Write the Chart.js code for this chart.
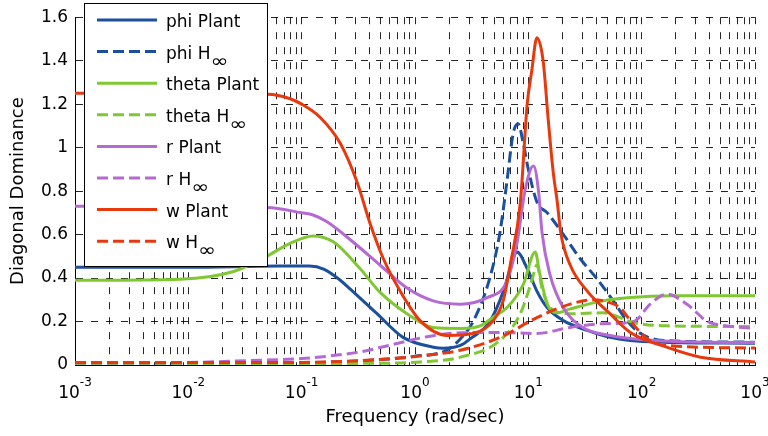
<!DOCTYPE html>
<html>
<head>
<meta charset="utf-8">
<script src="https://cdn.jsdelivr.net/npm/chart.js@4.4.0/dist/chart.umd.min.js"></script>
<style>
    html, body { margin: 0; padding: 0; background: #fff; }
</style>
</head>
<body>
<canvas id="myChart" width="768" height="436"></canvas>
<script>
// axis ticks
const yTickLabels = ['0', '0.2', '0.4', '0.6', '0.8', '1', '1.2', '1.4', '1.6'];
const xTickVals = [0.001, 0.01, 0.1, 1, 10, 100, 1000];
const xTickExp = ['-3', '-2', '-1', '0', '1', '2', '3'];

// series (freq in rad/sec)
const phiPlantFreq = [0.001, 0.01, 0.063, 0.117, 0.158, 0.219, 0.267, 0.462, 0.785, 1.45, 1.78, 2.51, 3.06, 4.57, 6.03, 7.35, 7.94, 9.77, 11.9, 14.7, 20.4, 33.1, 52.5, 79.4, 158, 1000];
const phiPlantVal = [0.45, 0.45, 0.455, 0.455, 0.44, 0.39, 0.35, 0.236, 0.127, 0.082, 0.077, 0.09, 0.12, 0.2, 0.34, 0.49, 0.52, 0.444, 0.34, 0.263, 0.204, 0.159, 0.127, 0.113, 0.105, 0.1];

const phiHFreq = [0.001, 0.1, 0.5, 1, 1.9, 2.51, 3.26, 4.57, 5.62, 6.46, 7.35, 8.13, 9.02, 10, 11.9, 14.7, 20.4, 28.6, 39.8, 56.2, 74.1, 97.7, 155, 1000];
const phiHVal = [0.005, 0.01, 0.025, 0.04, 0.068, 0.12, 0.2, 0.4, 0.61, 0.84, 1.065, 1.11, 1.02, 0.9, 0.75, 0.70, 0.6, 0.49, 0.4, 0.295, 0.204, 0.145, 0.113, 0.105];

const thetaPlantFreq = [0.001, 0.0085, 0.0251, 0.049, 0.079, 0.126, 0.19, 0.327, 0.49, 0.85, 1.45, 2.51, 3.76, 4.9, 6.46, 9.02, 11.5, 12.6, 14.7, 17.8, 23.4, 45.7, 79.4, 190, 1000];
const thetaPlantVal = [0.39, 0.395, 0.43, 0.50, 0.56, 0.594, 0.567, 0.444, 0.335, 0.236, 0.172, 0.168, 0.18, 0.22, 0.263, 0.37, 0.52, 0.42, 0.28, 0.24, 0.258, 0.295, 0.31, 0.318, 0.318];

const thetaHFreq = [0.001, 0.5, 1.11, 2.51, 5.62, 8.5, 10.7, 11.9, 13.2, 15.5, 23.4, 45.7, 85, 166, 1000];
const thetaHVal = [0.005, 0.008, 0.014, 0.036, 0.113, 0.236, 0.385, 0.46, 0.354, 0.263, 0.236, 0.24, 0.195, 0.18, 0.177];

const rPlantFreq = [0.001, 0.05, 0.1, 0.126, 0.166, 0.282, 0.49, 0.85, 1.45, 2.51, 4.33, 6.46, 7.94, 9.33, 11.1, 12.3, 13.2, 15.5, 20.4, 30.2, 52.5, 79.4, 200, 1000];
const rPlantVal = [0.73, 0.725, 0.70, 0.69, 0.66, 0.567, 0.46, 0.354, 0.295, 0.28, 0.31, 0.385, 0.56, 0.8, 0.915, 0.8, 0.61, 0.417, 0.263, 0.173, 0.136, 0.122, 0.108, 0.103];

const rHFreq = [0.001, 0.0063, 0.033, 0.1, 0.166, 0.327, 0.646, 1.28, 2.51, 5.62, 11.9, 23.4, 45.7, 85, 119, 166, 251, 380, 562, 1000];
const rHVal = [0.01, 0.01, 0.02, 0.03, 0.04, 0.06, 0.095, 0.13, 0.148, 0.15, 0.145, 0.173, 0.19, 0.2, 0.28, 0.326, 0.28, 0.2, 0.18, 0.168];

const wPlantFreq = [0.001, 0.05, 0.079, 0.1, 0.145, 0.219, 0.309, 0.398, 0.525, 0.74, 1.11, 1.92, 3.26, 4.9, 6.03, 6.92, 8.51, 9.77, 10.7, 11.9, 13.5, 15.0, 16.6, 18.0, 19.3, 23.4, 33.1, 52.5, 79.4, 166, 331, 1000];
const wPlantVal = [1.25, 1.245, 1.225, 1.2, 1.14, 1.02, 0.84, 0.657, 0.49, 0.34, 0.204, 0.136, 0.145, 0.204, 0.3, 0.46, 0.75, 1.2, 1.35, 1.505, 1.40, 1.125, 0.884, 0.75, 0.61, 0.46, 0.34, 0.236, 0.15, 0.082, 0.036, 0.014];

const wHFreq = [0.001, 0.1, 0.316, 0.646, 1.28, 2.51, 5.62, 11.9, 23.4, 37.2, 50, 64.6, 83.2, 112, 166, 1000];
const wHVal = [0.012, 0.012, 0.02, 0.03, 0.045, 0.068, 0.127, 0.218, 0.28, 0.30, 0.29, 0.263, 0.19, 0.12, 0.09, 0.078];

const seriesLabels = ['phi Plant', 'phi H\u221e', 'theta Plant', 'theta H\u221e', 'r Plant', 'r H\u221e', 'w Plant', 'w H\u221e'];
const seriesFreq = [phiPlantFreq, phiHFreq, thetaPlantFreq, thetaHFreq, rPlantFreq, rHFreq, wPlantFreq, wHFreq];
const seriesVal = [phiPlantVal, phiHVal, thetaPlantVal, thetaHVal, rPlantVal, rHVal, wPlantVal, wHVal];
const seriesColor = ['#1c4f9c', '#1c4f9c', '#80c832', '#80c832', '#b46ad2', '#b46ad2', '#e8380e', '#e8380e'];

const FONT = '"DejaVu Sans", sans-serif';
Chart.defaults.font.family = FONT;

let datasets = seriesLabels.map(function (lab, i) {
    return {
        label: lab,
        data: seriesFreq[i].map((f, k) => ({ x: f, y: seriesVal[i][k] })),
        borderColor: seriesColor[i],
        borderWidth: 3,
        borderDash: i % 2 ? [11, 5] : [],
        pointRadius: 0,
        fill: false,
        cubicInterpolationMode: 'monotone',
        order: 7 - i
    };
});

// x tick labels as 10^n, plus the boxed legend in the top-left corner
const matlabBits = {
    id: 'matlabBits',
    afterDraw(chart) {
        const ctx = chart.ctx;
        const xs = chart.scales.x;
        ctx.save();
        ctx.fillStyle = '#000';
        ctx.textBaseline = 'alphabetic';
        ctx.textAlign = 'left';
        xTickVals.forEach(function (v, i) {
            const px = xs.getPixelForValue(v);
            ctx.font = '17px ' + FONT;
            const w1 = ctx.measureText('10').width;
            ctx.font = '12px ' + FONT;
            const w2 = ctx.measureText(xTickExp[i]).width;
            const x0 = px - (w1 + w2) / 2;
            ctx.font = '17px ' + FONT;
            ctx.fillText('10', x0, 398);
            ctx.font = '12px ' + FONT;
            ctx.fillText(xTickExp[i], x0 + w1, 386);
        });

        // legend
        ctx.fillStyle = '#fff';
        ctx.fillRect(84.5, 3.5, 183, 263);
        ctx.strokeStyle = '#000';
        ctx.lineWidth = 1;
        ctx.setLineDash([]);
        ctx.strokeRect(84.5, 3.5, 183, 263);
        chart.data.datasets.forEach(function (ds, i) {
            const y = 20 + i * 31.6;
            ctx.strokeStyle = ds.borderColor;
            ctx.lineWidth = 3;
            ctx.setLineDash(ds.borderDash);
            ctx.beginPath();
            ctx.moveTo(97, y);
            ctx.lineTo(157, y);
            ctx.stroke();
            ctx.setLineDash([]);
            ctx.fillStyle = '#000';
            ctx.font = '17px ' + FONT;
            let txt = ds.label;
            let sub = '';
            if (txt.endsWith('\u221e')) {
                sub = '\u221e';
                txt = txt.slice(0, -1);
            }
            ctx.fillText(txt, 166, y + 7);
            if (sub) {
                const w = ctx.measureText(txt).width;
                ctx.save();
                ctx.translate(166 + w, y + 15);
                ctx.scale(1.2, 1);
                ctx.font = '18px ' + FONT;
                ctx.fillText(sub, 0, 0);
                ctx.restore();
            }
        });
        ctx.restore();
    }
};

new Chart('myChart', {
    type: 'line',
    data: { datasets: datasets },
    options: {
        responsive: false,
        animation: false,
        devicePixelRatio: 1,
        layout: { padding: { top: 12, right: 13, left: 0, bottom: 0 } },
        plugins: {
            legend: { display: false },
            tooltip: { enabled: false }
        },
        scales: {
            x: {
                type: 'logarithmic',
                min: 0.001,
                max: 1000,
                afterBuildTicks: function (scale) {
                    let t = [];
                    for (let e = -3; e < 3; e++) {
                        for (let m = 1; m < 10; m++) t.push({ value: m * Math.pow(10, e) });
                    }
                    t.push({ value: 1000 });
                    scale.ticks = t;
                },
                afterFit: function (scale) { scale.height = 71; },
                ticks: { display: false, autoSkip: false },
                grid: { color: 'rgba(0,0,0,0.85)', lineWidth: 1, drawTicks: false },
                border: { display: true, color: '#000', width: 1, dash: [7, 8] },
                title: {
                    display: true,
                    text: 'Frequency (rad/sec)',
                    color: '#000',
                    font: { size: 18, family: FONT },
                    padding: { top: 0, bottom: 8 }
                }
            },
            y: {
                min: 0,
                max: 1.6,
                afterFit: function (scale) { scale.width = 75; },
                ticks: {
                    stepSize: 0.2,
                    color: '#000',
                    padding: 7,
                    font: { size: 17, family: FONT },
                    callback: (v, i) => yTickLabels[i]
                },
                grid: { color: 'rgba(0,0,0,0.85)', lineWidth: 1, drawTicks: false },
                border: { display: true, color: '#000', width: 1, dash: [7, 8] },
                title: {
                    display: true,
                    text: 'Diagonal Dominance',
                    color: '#000',
                    font: { size: 18, family: FONT },
                    padding: { top: 8, bottom: 0 }
                }
            }
        }
    },
    plugins: [matlabBits]
});
</script>
</body>
</html>
